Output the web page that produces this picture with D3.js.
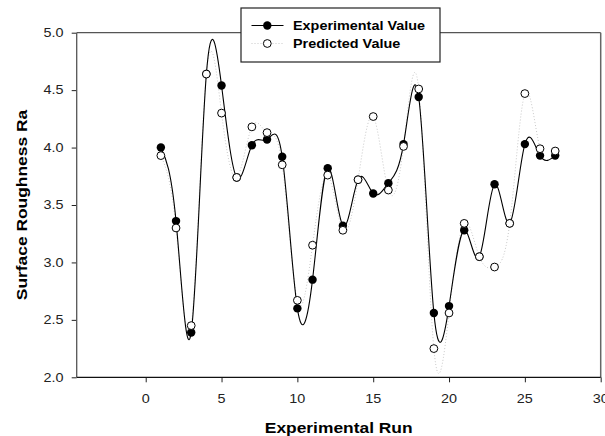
<!DOCTYPE html>
<html>
<head>
<meta charset="utf-8">
<script src="https://cdn.jsdelivr.net/npm/d3@7"></script>
<style>
  html, body { margin: 0; padding: 0; background: #fff; }
  svg { display: block; font-family: "Liberation Sans", Arial, sans-serif; }
</style>
</head>
<body>
<svg id="chart" width="605" height="436"></svg>
<script>
const runs = [1,2,3,4,5,6,7,8,9,10,11,12,13,14,15,16,17,18,19,20,21,22,23,24,25,26,27];
const experimental = [4.00,3.36,2.39,4.64,4.54,3.74,4.02,4.07,3.92,2.60,2.85,3.82,3.32,3.72,3.60,3.69,4.03,4.44,2.56,2.62,3.28,3.05,3.68,3.34,4.03,3.93,3.93];
const predicted = [3.93,3.30,2.45,4.64,4.30,3.74,4.18,4.13,3.85,2.67,3.15,3.76,3.28,3.72,4.27,3.63,4.01,4.51,2.25,2.56,3.34,3.05,2.96,3.34,4.47,3.99,3.97];
const xTicks = [0,5,10,15,20,25,30];
const yTicks = [2.0,2.5,3.0,3.5,4.0,4.5,5.0];
const seriesNames = ["Experimental Value","Predicted Value"];
const xTitle = "Experimental Run";
const yTitle = "Surface Roughness Ra";

const svg = d3.select("#chart");
const L = 76.7, R = 600.7, T = 32.7, B = 377.3;
const SX = 1.2; // horizontal text stretch

const x = d3.scaleLinear().domain([-4.55, 30]).range([L, R]);
const y = d3.scaleLinear().domain([2, 5]).range([B, T]);

svg.append("defs").append("clipPath").attr("id","clip")
  .append("rect").attr("x", L).attr("y", T).attr("width", R - L).attr("height", B - T);

function stretchedText(g, tx, ty, str, opts) {
  const t = g.append("text")
    .attr("transform", `translate(${tx},${ty})${opts.rotate ? " rotate(" + opts.rotate + ")" : ""} scale(${SX},1)`)
    .attr("text-anchor", opts.anchor || "start")
    .attr("font-size", opts.size)
    .attr("font-weight", opts.weight || "normal")
    .attr("fill", opts.fill || "#000")
    .text(str);
  return t;
}

// axes
const xAxis = d3.axisBottom(x).tickValues(xTicks).tickSize(5).tickFormat("");
const gx = svg.append("g").attr("transform", `translate(0,${B})`).call(xAxis);
gx.select(".domain").remove();
gx.selectAll(".tick line").attr("stroke", "#222");
xTicks.forEach(v => stretchedText(svg, x(v), 402.5, d3.format("d")(v), {anchor: "middle", size: 12, fill: "#222"}));

const yAxis = d3.axisLeft(y).tickValues(yTicks).tickSize(5).tickFormat("");
const gy = svg.append("g").attr("transform", `translate(${L},0)`).call(yAxis);
gy.select(".domain").remove();
gy.selectAll(".tick line").attr("stroke", "#222");
yTicks.forEach(v => stretchedText(svg, 63.5, y(v) + 4.3, d3.format(".1f")(v), {anchor: "end", size: 12, fill: "#222"}));

// frame
svg.append("line").attr("x1", L).attr("x2", R).attr("y1", T).attr("y2", T).attr("stroke", "#555").attr("stroke-width", 1.2);
svg.append("line").attr("x1", R).attr("x2", R).attr("y1", T).attr("y2", B).attr("stroke", "#666").attr("stroke-width", 1.5);
svg.append("line").attr("x1", L).attr("x2", L).attr("y1", T).attr("y2", B).attr("stroke", "#555").attr("stroke-width", 1.3);
svg.append("line").attr("x1", L).attr("x2", R).attr("y1", B).attr("y2", B).attr("stroke", "#111").attr("stroke-width", 1.2);

// lines
const plot = svg.append("g").attr("clip-path", "url(#clip)");
const lineGen = vals => d3.line().curve(d3.curveNatural).x((d,i) => x(runs[i])).y(d => y(d))(vals);

plot.append("path").attr("d", lineGen(predicted)).attr("fill", "none")
  .attr("stroke", "#c8c8c8").attr("stroke-width", 1).attr("stroke-dasharray", "1,2");
plot.append("path").attr("d", lineGen(experimental)).attr("fill", "none")
  .attr("stroke", "#000").attr("stroke-width", 1.1);

// markers
svg.append("g").selectAll("circle").data(experimental).join("circle")
  .attr("cx", (d,i) => x(runs[i])).attr("cy", d => y(d)).attr("r", 4.2).attr("fill", "#000");
svg.append("g").selectAll("circle").data(predicted).join("circle")
  .attr("cx", (d,i) => x(runs[i])).attr("cy", d => y(d)).attr("r", 3.9)
  .attr("fill", "#fff").attr("stroke", "#000").attr("stroke-width", 1);

// legend
const lg = svg.append("g");
lg.append("rect").attr("x", 241).attr("y", 8).attr("width", 199).attr("height", 54)
  .attr("fill", "#fff").attr("stroke", "#222").attr("stroke-width", 1.2);
lg.append("line").attr("x1", 251.5).attr("x2", 283.5).attr("y1", 25.5).attr("y2", 25.5).attr("stroke", "#000").attr("stroke-width", 1.1);
lg.append("circle").attr("cx", 267.3).attr("cy", 25.5).attr("r", 4.2).attr("fill", "#000");
lg.append("line").attr("x1", 251.5).attr("x2", 283.5).attr("y1", 43.5).attr("y2", 43.5).attr("stroke", "#c8c8c8").attr("stroke-dasharray", "1,2");
lg.append("circle").attr("cx", 267.3).attr("cy", 43.5).attr("r", 3.9).attr("fill", "#fff").attr("stroke", "#000");
stretchedText(lg, 293, 29.8, seriesNames[0], {size: 12, weight: "bold"});
stretchedText(lg, 293, 47.8, seriesNames[1], {size: 12, weight: "bold"});

// titles
stretchedText(svg, (L + R) / 2, 432.5, xTitle, {anchor: "middle", size: 14.5, weight: "bold"});
stretchedText(svg, 27, (T + B) / 2, yTitle, {anchor: "middle", size: 14.5, weight: "bold", rotate: -90});
</script>
</body>
</html>
